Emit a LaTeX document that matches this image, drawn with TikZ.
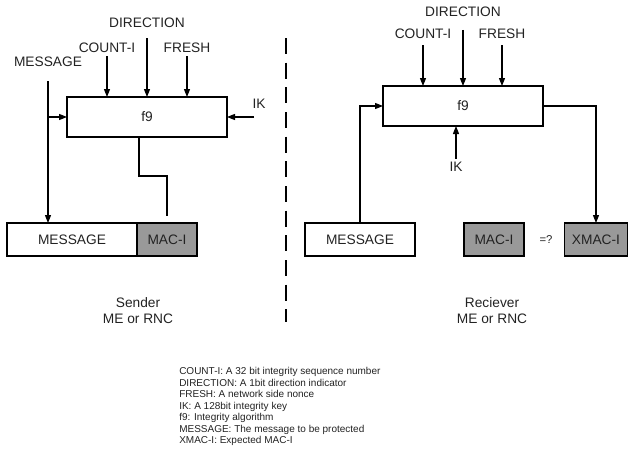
\documentclass[tikz,border=0pt]{standalone}
\usepackage{fontspec}
\setmainfont{Liberation Sans}
\usetikzlibrary{arrows.meta}
\definecolor{txt}{HTML}{222222}
\definecolor{macgray}{HTML}{999999}
\begin{document}
\begin{tikzpicture}[x=0.75pt,y=-0.75pt,
  lab/.style={text=txt,font=\fontsize{10.3}{12}\selectfont,inner sep=2.5pt},
  fbox/.style={draw,line width=0.8pt,minimum width=120pt,minimum height=30pt,inner sep=0pt,outer sep=0pt,text=txt,font=\fontsize{10.3}{12}\selectfont},
  dbox/.style={draw,line width=0.8pt,minimum height=24.75pt,inner sep=0pt,outer sep=0pt,text=txt,font=\fontsize{10.3}{12}\selectfont},
  gbox/.style={dbox,fill=macgray},
  arr/.style={line width=0.8pt,-{Triangle[length=6pt,width=4.5pt]}},
  ln/.style={line width=0.8pt}]
\useasboundingbox (0,0) rectangle (629,457);
% ---------- Sender ----------
\node[fbox] (lf9) at (147,117) {f9};
\node[lab] (lcount) at (107,48) {COUNT-I};
\node[lab] (ldir) at (147,23) {DIRECTION};
\node[lab] (lfresh) at (187,48) {FRESH};
\node[lab] (lmsg) at (48,62) {MESSAGE};
\node[lab] (lik) at (259,104) {IK};
\node[dbox,minimum width=97.5pt] (lmbox) at (72,239.5) {MESSAGE};
\node[gbox,minimum width=45pt] (lmac) at (167,239.5) {MAC-I};
\coordinate (likstart) at (254,117);
\draw[arr] (lcount.south) -- (lcount.south |- lf9.north);
\draw[arr,shorten <=5pt] (ldir.south) -- (ldir.south |- lf9.north);
\draw[arr] (lfresh.south) -- (lfresh.south |- lf9.north);
\draw[arr,shorten <=8pt] (lmsg.south) -- (lmsg.south |- lmbox.north);
\draw[arr] (lmsg.south |- lf9.west) -- (lf9.west);
\draw[arr] (likstart) -- (lf9.east);
\draw[ln] ([xshift=-6pt]lf9.south) -- ++(0,39) -| ([yshift=5.25pt]lmac.north);
\node[lab,align=center] (sender) at (138,311) {Sender\\ME or RNC};
% ---------- Divider ----------
\coordinate (dtop) at (286,38);
\coordinate (dbot) at (286,322);
\draw[ln,dash pattern=on 12pt off 6.5pt] (dtop) -- (dbot);
% ---------- Receiver ----------
\node[fbox] (rf9) at (463,106) {f9};
\node[lab] (rcount) at (423,34) {COUNT-I};
\node[lab] (rdir) at (463,12) {DIRECTION};
\node[lab] (rfresh) at (502,34) {FRESH};
\node[lab] (rik) at (456,167) {IK};
\node[dbox,minimum width=82.5pt] (rmbox) at (360,239.5) {MESSAGE};
\node[gbox,minimum width=45pt] (rmac) at (494,239.5) {MAC-I};
\node[lab,font=\fontsize{8.5}{10}\selectfont] (eq) at (546,240) {=?};
\node[gbox,minimum width=47.5pt] (xmac) at (596,239.5) {XMAC-I};
\draw[arr,shorten <=2pt] (rcount.south) -- (rcount.south |- rf9.north);
\draw[arr,shorten <=7pt] (rdir.south) -- (rdir.south |- rf9.north);
\draw[arr,shorten <=2pt] (rfresh.south) -- (rfresh.south |- rf9.north);
\draw[arr] (rik.north) -- (rik.north |- rf9.south);
\draw[arr] (rmbox.north) |- (rf9.west);
\draw[arr] (rf9.east) -| (xmac.north);
\node[lab,align=center] (receiver) at (492,311) {Reciever\\ME or RNC};
% ---------- Legend ----------
\node[anchor=north west,align=left,inner sep=0pt,text=txt,font=\fontsize{7.5}{8.65}\selectfont] (legend) at (179,367)
{COUNT-I: A 32 bit integrity sequence number\\
DIRECTION: A 1bit direction indicator\\
FRESH: A network side nonce\\
IK: A 128bit integrity key\\
f9: Integrity algorithm\\
MESSAGE: The message to be protected\\
XMAC-I: Expected MAC-I};
\end{tikzpicture}
\end{document}
